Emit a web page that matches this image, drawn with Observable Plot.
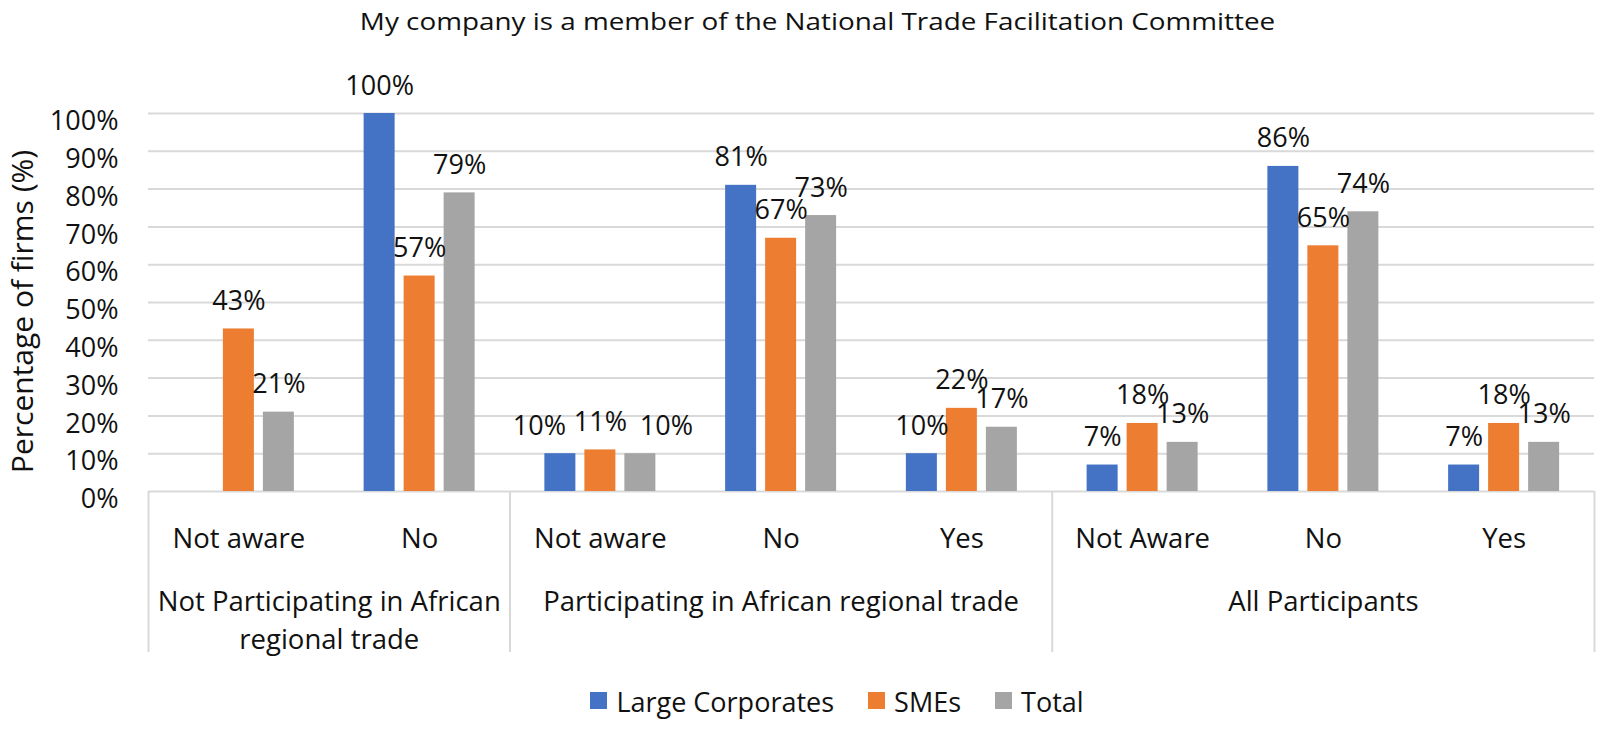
<!DOCTYPE html>
<html>
<head>
<meta charset="utf-8">
<script src="https://cdn.jsdelivr.net/npm/d3@7"></script>
<script src="https://cdn.jsdelivr.net/npm/@observablehq/plot@0.6"></script>
<style>
  body { margin: 0; background: #fff; font-family: 'Open Sans', sans-serif; color: #111; }
  #wrap { width: 1599px; }
  #title { width: 1599px; box-sizing: border-box; height: 42px; line-height: 42px; font-size: 24px;
           text-align: center; padding-left: 37px; white-space: nowrap; }
  #title span { display: inline-block; transform: scaleX(1.16); }
  #legend { width: 1599px; box-sizing: border-box; padding-top: 20px; padding-left: 75px; height: 60px;
            display: flex; justify-content: center; align-items: center; font-size: 27px; line-height: 40px; }
  #legend .item { display: inline-flex; align-items: center; margin-right: 34px; }
  #legend .item:last-child { margin-right: 0; }
  #legend .sw { width: 17px; height: 17px; margin-right: 9px; position: relative; top: -2px; }
</style>
</head>
<body>
<div id="wrap">
  <div id="title"><span></span></div>
  <div id="chart"></div>
  <div id="legend"></div>
</div>
<script>
// ---- data ----
const titleText = "My company is a member of the National Trade Facilitation Committee";
const yLabel = "Percentage of firms (%)";
const groups = ["Not Participating in African\nregional trade", "Participating in African regional trade", "All Participants"];
const categories = ["Not aware", "No", "Not aware", "No", "Yes", "Not Aware", "No", "Yes"];
const categoryGroup = [0, 0, 1, 1, 1, 2, 2, 2];
const series = ["Large Corporates", "SMEs", "Total"];
const colors = ["#4472C4", "#ED7D31", "#A5A5A5"];
const largeCorporates = [null, 100, 10, 81, 10, 7, 86, 7];
const smes = [43, 57, 11, 67, 22, 18, 65, 18];
const total = [21, 79, 10, 73, 17, 13, 74, 13];
const yTicks = [0, 10, 20, 30, 40, 50, 60, 70, 80, 90, 100];

// ---- build tables ----
const seriesValues = [largeCorporates, smes, total];
const bars = [];
seriesValues.forEach((arr, s) => arr.forEach((v, c) => {
  if (v != null) bars.push({c, s, series: series[s], v});
}));
const boundaries = [0];
groups.forEach((g, gi) => boundaries.push(boundaries[gi] + categoryGroup.filter(k => k === gi).length));
const groupData = groups.map((g, i) => ({label: g, mid: (boundaries[i] + boundaries[i + 1]) / 2}));
const catData = categories.map((name, i) => ({name, i}));

// ---- layout ----
const W = 1599, H = 620, mL = 148, mR = 5, mT = 71, mB = 171;
const catW = (W - mL - mR) / categories.length;
const step = 40 / catW, bw = 31 / catW;
const plotH = H - mT - mB;
const cx = d => d.c + 0.5 + (d.s - 1) * step;
const nudged = d => d.c === 2 && d.s !== 1;

document.querySelector("#title span").textContent = titleText;

const chart = Plot.plot({
  width: W, height: H,
  marginLeft: mL, marginRight: mR, marginTop: mT, marginBottom: mB,
  style: {fontFamily: "'Open Sans', sans-serif", fontSize: "27px", color: "#111", background: "white", overflow: "visible"},
  x: {domain: [0, categories.length], axis: null},
  y: {domain: [0, 100], axis: null},
  color: {domain: series, range: colors},
  marks: [
    Plot.ruleY(yTicks, {stroke: "#d9d9d9", strokeWidth: 2}),
    Plot.ruleX(boundaries, {x: d => d, stroke: "#d9d9d9", strokeWidth: 2, insetTop: plotH, insetBottom: -161}),
    Plot.axisY(yTicks, {tickSize: 0, tickPadding: 30, tickFormat: d => d + "%", fontSize: 27, dy: 8, label: null, fill: "#111"}),
    Plot.rect(bars, {x1: d => cx(d) - bw / 2, x2: d => cx(d) + bw / 2, y1: 0, y2: "v", fill: "series"}),
    Plot.text(bars.filter(d => !nudged(d)), {x: cx, y: "v", text: d => d.v + "%", dy: -19, lineAnchor: "bottom", fontSize: 27, fill: "#111"}),
    Plot.text(bars.filter(d => nudged(d) && d.s === 0), {x: cx, y: "v", text: d => d.v + "%", dx: -21, dy: -19, lineAnchor: "bottom", fontSize: 27, fill: "#111"}),
    Plot.text(bars.filter(d => nudged(d) && d.s === 2), {x: cx, y: "v", text: d => d.v + "%", dx: 26, dy: -19, lineAnchor: "bottom", fontSize: 27, fill: "#111"}),
    Plot.text(catData, {x: d => d.i + 0.5, text: "name", frameAnchor: "bottom", lineAnchor: "bottom", dy: 56, fontSize: 27.5, fill: "#111"}),
    Plot.text(groupData, {x: "mid", text: "label", frameAnchor: "bottom", lineAnchor: "top", lineHeight: 1.38, dy: 93, fontSize: 27.5, fill: "#111"}),
    Plot.text([yLabel], {text: d => d, frameAnchor: "left", textAnchor: "middle", rotate: -90, lineAnchor: "bottom", dx: -116, dy: 9, fontSize: 30, fill: "#111"})
  ]
});
document.getElementById("chart").appendChild(chart);

const legend = document.getElementById("legend");
series.forEach((s, i) => {
  const item = document.createElement("span");
  item.className = "item";
  const sw = document.createElement("span");
  sw.className = "sw";
  sw.style.background = colors[i];
  const t = document.createElement("span");
  t.textContent = s;
  item.appendChild(sw); item.appendChild(t);
  legend.appendChild(item);
});
</script>
</body>
</html>
